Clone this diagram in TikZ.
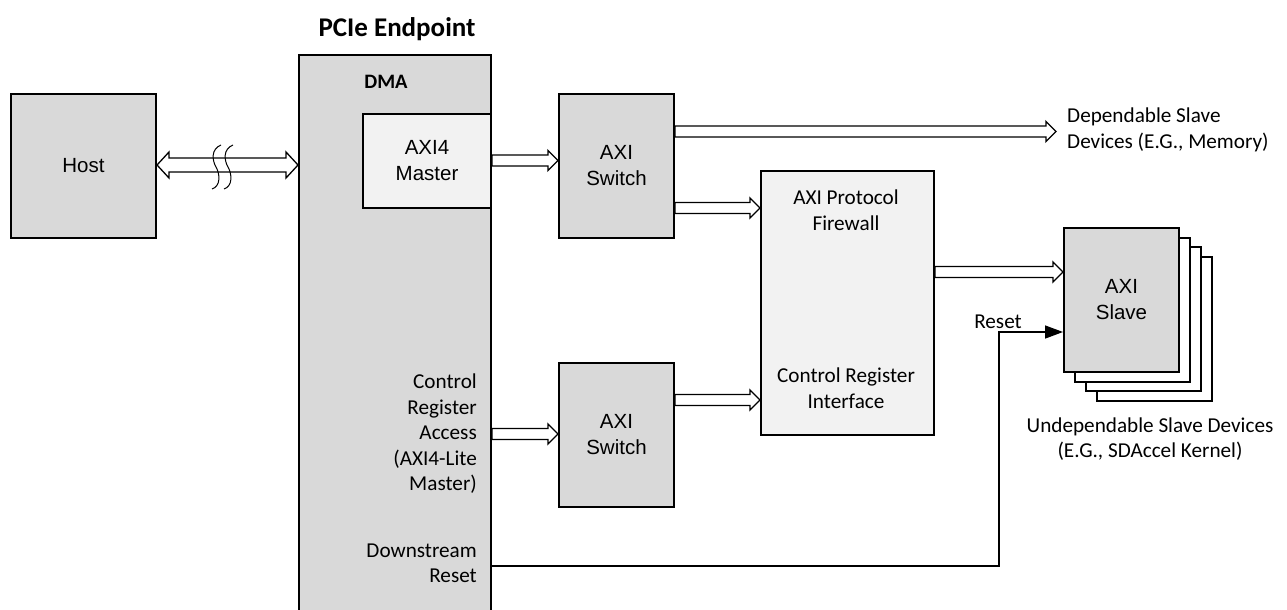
\documentclass[tikz,border=0pt]{standalone}
\usepackage{fontspec}
\setmainfont{Carlito}
\newfontfamily\arialfont{Liberation Sans}
\usetikzlibrary{arrows.meta,calc}
\definecolor{boxgray}{HTML}{D9D9D9}
\definecolor{boxlight}{HTML}{F2F2F2}
\newcommand\hollowarrow[2]{%
  \draw[hollow] let \p1=#1, \p2=#2 in
    (\x1,{\y1+5.5pt}) -- ({\x2-10pt},{\y1+5.5pt}) -- ({\x2-10pt},{\y1+10pt}) -- (\x2,\y1)
    -- ({\x2-10pt},{\y1-10pt}) -- ({\x2-10pt},{\y1-5.5pt}) -- (\x1,{\y1-5.5pt}) -- cycle;}
\newcommand\hollowdoublearrow[2]{%
  \draw[hollow] let \p1=#1, \p2=#2 in
    ({\x1+12pt},{\y1+7pt}) -- ({\x2-12pt},{\y1+7pt}) -- ({\x2-12pt},{\y1+13pt}) -- (\x2,\y1)
    -- ({\x2-12pt},{\y1-13pt}) -- ({\x2-12pt},{\y1-7pt}) -- ({\x1+12pt},{\y1-7pt})
    -- ({\x1+12pt},{\y1-13pt}) -- (\x1,\y1) -- ({\x1+12pt},{\y1+13pt}) -- cycle;}
\begin{document}
\begin{tikzpicture}[x=1pt,y=-1pt,
  box/.style={draw=black, line width=2pt, fill=boxgray, inner sep=0pt, anchor=north west,
    font=\arialfont\fontsize{20.5}{26}\selectfont, align=center},
  lightbox/.style={box, fill=boxlight},
  backbox/.style={box, fill=white},
  lbl/.style={font=\fontsize{21.2}{25.5}\selectfont, inner sep=0pt},
  hollow/.style={draw=black, line width=1.3pt, fill=white, line join=miter},
  brk/.style={draw=black, line width=1pt}]
\useasboundingbox (0,0) rectangle (1287,610);
\clip (0,0) rectangle (1287,610);

% boxes
\node[box, minimum width=145pt, minimum height=144pt] (host) at (10,93) {Host};
\node[box, minimum width=192pt, minimum height=600pt] (dma) at (298,54) {};
\node[lightbox, minimum width=128pt, minimum height=94pt] (master) at (362,113) {AXI4\\Master};
\node[box, minimum width=115pt, minimum height=144pt] (sw1) at (558,93) {AXI\\Switch};
\node[box, minimum width=115pt, minimum height=144pt] (sw2) at (558,362) {AXI\\Switch};
\node[lightbox, minimum width=173pt, minimum height=264pt] (fw) at (760,170) {};
\node[backbox, minimum width=115pt, minimum height=144pt] (sl3) at (1096,256) {};
\node[backbox, minimum width=115pt, minimum height=144pt] (sl2) at (1085,246) {};
\node[backbox, minimum width=115pt, minimum height=144pt] (sl1) at (1074,237) {};
\node[box, minimum width=115pt, minimum height=144pt] (slave) at (1063,227) {AXI\\Slave};

% labels
\node[lbl, font=\bfseries\fontsize{27}{30}\selectfont] (pcie) at (397,29) {PCIe Endpoint};
\node[lbl, font=\bfseries\fontsize{20.5}{25}\selectfont] (dmalbl) at (386,82) {DMA};
\node[lbl, align=center] (fwtop) at (846,210) {AXI Protocol\\Firewall};
\node[lbl, align=center] (fwbot) at (846,388) {Control Register\\Interface};
\node[lbl, align=right, anchor=east] (ctrl) at (477,434) {Control\\Register\\Access\\(AXI4-Lite\\Master)};
\node[lbl, align=right, anchor=east] (dsr) at (477,563.5) {Downstream\\Reset};
\node[lbl, align=left, anchor=west] (dep) at (1067,130) {Dependable Slave\\Devices (E.G., Memory)};
\node[lbl, align=center] (undep) at (1150,439) {Undependable Slave Devices\\(E.G., SDAccel Kernel)};
\coordinate (depend) at (1056,131.5);

% connectors
\hollowdoublearrow{(host.east |- 0,165)}{(dma.west |- 0,165)}
\draw[brk] (221,145) .. controls (211,149) and (212,160) .. (216,167) .. controls (220,174) and (221,186) .. (212,189);
\draw[brk] (233,145) .. controls (223,149) and (224,160) .. (228,167) .. controls (232,174) and (233,186) .. (224,189);
\hollowarrow{(master.east |- 0,160.5)}{(sw1.west |- 0,160.5)}
\hollowarrow{(sw1.east |- 0,131.5)}{(depend)}
\hollowarrow{(sw1.east |- 0,208)}{(fw.west |- 0,208)}
\hollowarrow{(dma.east |- 0,434)}{(sw2.west |- 0,434)}
\hollowarrow{(sw2.east |- 0,400)}{(fw.west |- 0,400)}
\hollowarrow{(fw.east |- 0,272)}{(slave.west |- 0,272)}
\coordinate (rcorner) at (999,332);
\draw[line width=1.5pt, -{Triangle[length=18pt,width=13pt]}]
  (dma.east |- 0,566) -| (rcorner) -- (slave.west |- rcorner);
\node[lbl, anchor=south] (resetlbl) at (998,329) {Reset};
\end{tikzpicture}
\end{document}
